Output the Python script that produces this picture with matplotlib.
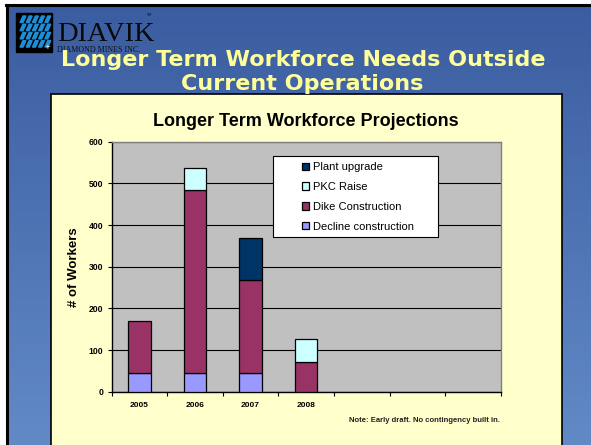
import numpy as np
import matplotlib
matplotlib.use("Agg")
import matplotlib.pyplot as plt
from matplotlib.patches import Rectangle, Polygon

# ---- data ----
years = ["2005", "2006", "2007", "2008", "", "", ""]
decline = [45, 45, 45, 0, 0, 0, 0]
dike = [125, 438, 223, 72, 0, 0, 0]
pkc = [0, 55, 0, 55, 0, 0, 0]
plant = [0, 0, 100, 0, 0, 0, 0]
series_names = ["Decline construction", "Dike Construction", "PKC Raise", "Plant upgrade"]
series_colors = ["#9999FF", "#993366", "#CCFFFF", "#003366"]

W, H = 591, 445
fig = plt.figure(figsize=(W / 100, H / 100), dpi=100)

# background gradient
bg = fig.add_axes([0, 0, 1, 1])
bg.set_xlim(0, W)
bg.set_ylim(H, 0)
bg.axis("off")
grad = np.linspace(0, 1, 256).reshape(-1, 1)
top = np.array([0x3A, 0x5C, 0xA0]) / 255
bot = np.array([0x62, 0x8A, 0xC6]) / 255
img = top + (bot - top) * grad[..., None]
img = np.repeat(img, 2, axis=1)
bg.imshow(img, extent=[0, W, H, 0], aspect="auto", zorder=0)
# slide frame lines
bg.add_patch(Rectangle((0, 0), 6, H, color="white", zorder=1))
bg.add_patch(Rectangle((0, 0), W, 4, color="white", zorder=1))
bg.plot([7, 7], [5, H], color="black", lw=2.2, zorder=2)
bg.plot([6, W], [5, 5], color="black", lw=2.2, zorder=2)

# logo
bg.add_patch(Rectangle((16, 13), 36, 39, color="black", zorder=3))
for i in range(5):
    for j in range(4):
        x0 = 20 + i * 6.2
        y0 = 16 + j * 8.2
        bg.add_patch(Polygon([(x0 + 3, y0), (x0 + 6, y0), (x0 + 3, y0 + 6.5), (x0, y0 + 6.5)],
                             closed=True, color="#1E8FD6", zorder=4))
bg.text(57, 41, "DIAVIK", fontsize=20.5, family="Liberation Serif", color="#0A0A0A",
        va="baseline", ha="left", zorder=3)
bg.text(146, 15, "TM", fontsize=2.5, color="#111111", va="center", ha="left", zorder=3)
bg.text(57, 51.5, "DIAMOND MINES INC.", fontsize=5.8, family="Liberation Serif",
        color="#111111", va="baseline", ha="left", zorder=3)
bg.text(47, 47, "+", fontsize=5, color="white", va="center", ha="center", zorder=5)

# slide title
bg.text(303, 66, "Longer Term Workforce Needs Outside", fontsize=16, fontweight="bold",
        family="DejaVu Sans", color="#FFFF99", ha="center", va="baseline", zorder=6)
bg.text(302, 90, "Current Operations", fontsize=16, fontweight="bold",
        family="DejaVu Sans", color="#FFFF99", ha="center", va="baseline", zorder=6)

# chart area
bg.add_patch(Rectangle((51, 94), 562 - 51, H - 94 + 5, facecolor="#FFFFCC",
                       edgecolor="black", lw=1.2, zorder=5))
bg.text(306, 121, "Longer Term Workforce Projections", fontsize=13, fontweight="bold",
        family="Liberation Sans", color="black", ha="center", va="center", zorder=6)
bg.text(500, 420, "Note: Early draft. No contingency built in.", fontsize=5.5,
        fontweight="bold", family="Liberation Sans", color="#222222",
        ha="right", va="center", zorder=6)

# plot area
L, R, T, B = 111.5, 500.7, 141.7, 391.7
ax = fig.add_axes([L / W, (H - B) / H, (R - L) / W, (B - T) / H], zorder=10)
ax.set_facecolor("#C0C0C0")
x = np.arange(len(years))
bw = 0.41
bottom = np.zeros(len(years))
handles = []
for name, vals, col in zip(series_names, [decline, dike, pkc, plant], series_colors):
    vals = np.array(vals, dtype=float)
    m = vals > 0
    h = ax.bar(x[m], vals[m], bw, bottom=bottom[m], color=col, edgecolor="black", lw=0.9,
               label=name, zorder=3)
    handles.append(h)
    bottom += vals
ax.set_xlim(-0.5, len(years) - 0.5)
ax.set_ylim(0, 600)
ax.set_yticks(range(0, 601, 100))
ax.yaxis.grid(True, color="black", lw=0.8, zorder=1)
ax.set_axisbelow(True)
ax.set_xticks(x)
ax.set_xticklabels(years)
ax.set_xticks(np.arange(-0.5, len(years)), minor=True)
ax.tick_params(axis="x", which="major", length=0, pad=7.5, labelsize=6)
ax.tick_params(axis="x", which="minor", length=3, width=0.8, direction="out")
ax.tick_params(axis="y", length=3, width=0.8, labelsize=6.2, pad=3)
for lab in ax.get_xticklabels() + ax.get_yticklabels():
    lab.set_fontweight("bold")
    lab.set_family("Liberation Sans")
for s in ["top", "right"]:
    ax.spines[s].set_color("#808080")
    ax.spines[s].set_linewidth(1.0)
for s in ["left", "bottom"]:
    ax.spines[s].set_color("black")
    ax.spines[s].set_linewidth(1.0)
ax.set_ylabel("# of Workers", fontsize=9.5, fontweight="bold",
              family="Liberation Sans")
ax.yaxis.set_label_coords(-0.082, 0.5)

# legend frame + entries
ax.add_patch(Rectangle((0.4157, 0.62), 0.424, 0.323, transform=ax.transAxes,
                       facecolor="white", edgecolor="black", lw=0.8, zorder=15))
leg = ax.legend(handles[::-1], series_names[::-1], loc="upper left",
                bbox_to_anchor=(0.4887, 0.918), borderaxespad=0, borderpad=0,
                frameon=False,
                prop={"family": "Liberation Sans", "size": 8},
                handlelength=0.65, handleheight=0.65, handletextpad=0.35,
                labelspacing=0.88)
leg.set_zorder(20)

fig.savefig("out.png", dpi=100)
